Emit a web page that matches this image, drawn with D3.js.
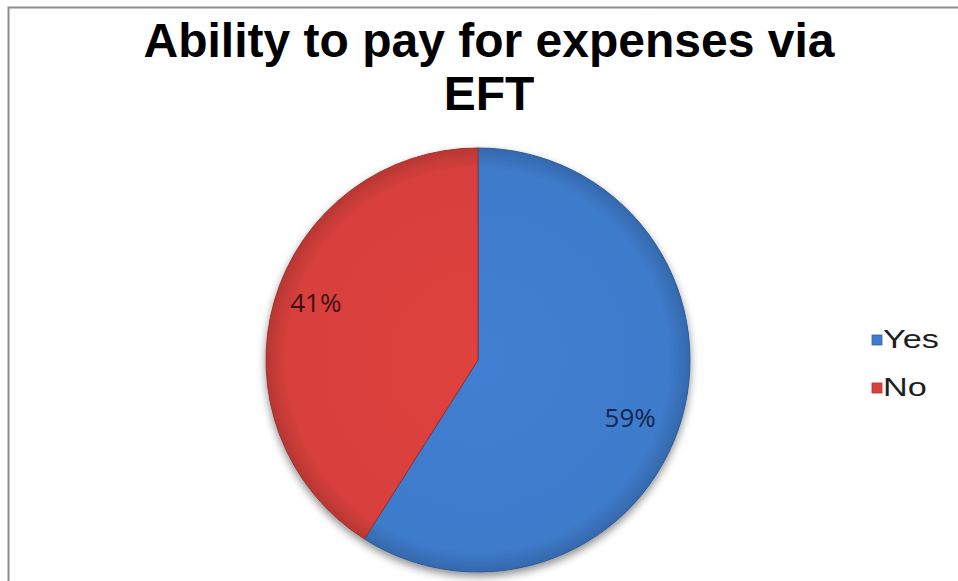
<!DOCTYPE html>
<html>
<head>
<meta charset="utf-8">
<script src="https://cdn.jsdelivr.net/npm/d3@7"></script>
<style>
  html, body { margin: 0; padding: 0; background: #fff; }
  svg { display: block; }
  .title { font-family: "Liberation Sans", Arial, sans-serif; font-weight: bold; }
  .lbl { font-family: "Open Sans", Calibri, sans-serif; }
  .leg { font-family: "Liberation Sans", Arial, sans-serif; }
</style>
</head>
<body>
<svg id="chart" width="958" height="581"></svg>
<script>
// Survey responses: can the expense be paid via EFT?
const categories = ["Yes", "No"];
const shares = [59, 41];
const sliceColors = ["#3e7bcb", "#d8403c"];
const titleLines = ["Ability to pay for expenses via", "EFT"];

const svg = d3.select("#chart");
const W = 958, H = 581;

// chart frame (opens off the right and bottom edge)
svg.append("rect")
  .attr("x", 8.5).attr("y", 7.5)
  .attr("width", W + 20).attr("height", H + 20)
  .attr("fill", "#fff")
  .attr("stroke", "#8a8a8a").attr("stroke-width", 2);

const defs = svg.append("defs");
const shadow = defs.append("filter").attr("id", "shadow")
  .attr("x", "-20%").attr("y", "-20%").attr("width", "140%").attr("height", "140%");
shadow.append("feGaussianBlur").attr("in", "SourceAlpha").attr("stdDeviation", 4).attr("result", "b");
shadow.append("feOffset").attr("in", "b").attr("dx", 0).attr("dy", 4).attr("result", "o");
shadow.append("feComponentTransfer").attr("in", "o").attr("result", "s")
  .append("feFuncA").attr("type", "linear").attr("slope", 0.45);
const merge = shadow.append("feMerge");
merge.append("feMergeNode").attr("in", "s");
merge.append("feMergeNode").attr("in", "SourceGraphic");

// soft bevel shading per slice
sliceColors.forEach((c, i) => {
  const g = defs.append("radialGradient").attr("id", "grad" + i)
    .attr("gradientUnits", "userSpaceOnUse")
    .attr("cx", 0).attr("cy", 0).attr("r", 212);
  const base = d3.color(c);
  g.append("stop").attr("offset", "0%").attr("stop-color", base.brighter(0.08));
  g.append("stop").attr("offset", "90%").attr("stop-color", base);
  g.append("stop").attr("offset", "100%").attr("stop-color", base.darker(0.45));
});

// title
svg.append("g").selectAll("text").data(titleLines).join("text")
  .attr("class", "title")
  .attr("x", 489).attr("y", (d, i) => 57 + i * 53)
  .attr("text-anchor", "middle")
  .attr("font-size", 48)
  .attr("fill", "#000")
  .text(d => d);

// pie
const cx = 478, cy = 360, R = 212;
const pie = d3.pie().sort(null).value(d => d.v);
const data = categories.map((c, i) => ({ c, v: shares[i], i }));
const arcs = pie(data);
const arc = d3.arc().innerRadius(0).outerRadius(R);
const labelR = R * 0.79, labelTurn = 0.07;

const g = svg.append("g").attr("transform", `translate(${cx},${cy})`);
g.append("g").attr("filter", "url(#shadow)")
  .selectAll("path").data(arcs).join("path")
  .attr("d", arc)
  .attr("fill", d => `url(#grad${d.data.i})`)
  .attr("stroke", d => d3.color(sliceColors[d.data.i]).darker(0.9))
  .attr("stroke-width", 1);

g.selectAll("text.lbl").data(arcs).join("text")
  .attr("class", "lbl")
  .attr("transform", d => {
    const a = (d.startAngle + d.endAngle) / 2 + labelTurn;
    const x = labelR * Math.sin(a), y = -labelR * Math.cos(a);
    return `translate(${x - 5},${y + 9.5})`;
  })
  .attr("text-anchor", "middle")
  .attr("font-size", 26)
  .attr("fill", d => d.data.i === 0 ? "#15264a" : "#3a1010")
  .text(d => d.data.v + "%");

// legend
const leg = svg.append("g").attr("transform", "translate(872,340)");
const items = leg.selectAll("g").data(categories).join("g")
  .attr("transform", (d, i) => `translate(0,${i * 48})`);
items.append("rect")
  .attr("x", 0).attr("y", -5).attr("width", 10).attr("height", 10)
  .attr("fill", (d, i) => sliceColors[i])
  .attr("stroke", (d, i) => d3.color(sliceColors[i]).darker(0.6)).attr("stroke-width", 0.8);
items.append("text")
  .attr("class", "leg")
  .attr("transform", "translate(11,8) scale(1.37,1)")
  .attr("font-size", 25)
  .attr("fill", "#1e1e1e")
  .text(d => d);
</script>
</body>
</html>
